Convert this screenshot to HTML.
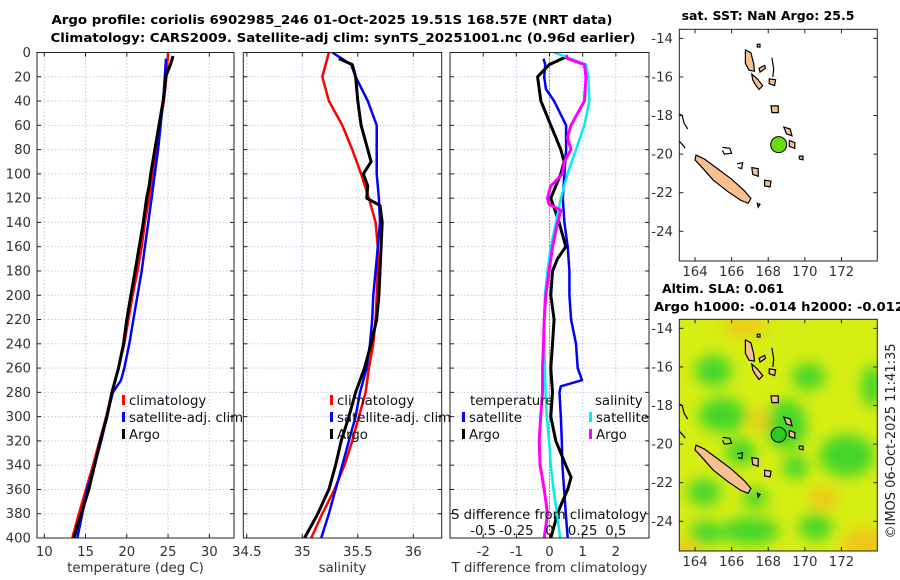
<!DOCTYPE html>
<html><head><meta charset="utf-8"><style>
body{margin:0;background:#fff;}
svg{display:block;font-family:"DejaVu Sans","Liberation Sans",sans-serif;}
</style></head><body>
<svg id="fig" width="900" height="580" viewBox="0 0 900 580" xmlns="http://www.w3.org/2000/svg">
<defs>
<clipPath id="c1"><rect x="37" y="52.5" width="197" height="485.5"/></clipPath>
<clipPath id="c2"><rect x="243.3" y="52.5" width="198.4" height="485.5"/></clipPath>
<clipPath id="c3"><rect x="450" y="52.5" width="199" height="485.5"/></clipPath>
<clipPath id="cm1"><rect x="679.3" y="29.3" width="198" height="231.7"/></clipPath>
<clipPath id="cm2"><rect x="679.3" y="319.3" width="198" height="231.7"/></clipPath>
<filter id="blur" x="-50%" y="-50%" width="200%" height="200%"><feGaussianBlur stdDeviation="7"/></filter>
</defs>
<g id="root"></g>
<text x="332" y="24" text-anchor="middle" font-size="12.5" font-weight="bold" textLength="561" lengthAdjust="spacingAndGlyphs">Argo profile: coriolis 6902985_246 01-Oct-2025 19.51S 168.57E (NRT data)</text>
<text x="343" y="42" text-anchor="middle" font-size="12.5" font-weight="bold" textLength="585" lengthAdjust="spacingAndGlyphs">Climatology: CARS2009. Satellite-adj clim: synTS_20251001.nc (0.96d earlier)</text>
<text x="768" y="20" text-anchor="middle" font-size="12.5" font-weight="bold">sat. SST: NaN Argo: 25.5</text>
<text x="723" y="293" text-anchor="middle" font-size="12.5" font-weight="bold">Altim. SLA: 0.061</text>
<text x="654" y="311" font-size="12.5" font-weight="bold" textLength="250" lengthAdjust="spacingAndGlyphs">Argo h1000: -0.014 h2000: -0.012</text>
<text transform="translate(895,441) rotate(-90)" text-anchor="middle" font-size="13" fill="#222">©IMOS 06-Oct-2025 11:41:35</text>
</svg>
<script>
// ---------- data ----------
const depthGrid = [0,20,40,60,80,100,120,140,160,180,200,220,240,260,280,300,320,340,360,380,400];
const tClim = [25.0,24.8,24.5,24.0,23.6,23.1,22.7,22.2,21.8,21.3,20.7,20.2,19.7,19.0,18.2,17.5,16.7,15.9,15.05,14.2,13.4];
const tSatDepth = [5,20,40,60,80,100,120,140,160,180,200,220,240,260,270,280,300,320,340,360,380,400];
const tSat = [24.75,24.6,24.4,24.1,23.8,23.4,23.0,22.6,22.2,21.8,21.3,20.8,20.3,19.7,19.3,18.3,17.6,16.9,16.1,15.2,14.6,14.0];
const tArgoDepth = [3,10,20,30,40,60,80,100,110,120,140,160,180,200,220,240,260,280,300,320,340,360,380,390,400];
const tArgo = [25.6,25.3,24.7,24.6,24.4,23.9,23.4,22.9,22.7,22.4,22.0,21.5,21.0,20.5,20.0,19.6,19.0,18.2,17.6,16.8,16.1,15.4,14.5,14.0,13.6];
const sClim = [35.24,35.18,35.24,35.36,35.45,35.53,35.6,35.66,35.68,35.68,35.67,35.66,35.64,35.6,35.57,35.51,35.45,35.38,35.29,35.18,35.08];
const sSatDepth = [0,10,20,40,60,80,100,120,140,160,180,200,220,240,260,280,300,320,340,360,380,400];
const sSat = [35.27,35.44,35.48,35.59,35.67,35.67,35.67,35.69,35.7,35.68,35.66,35.64,35.63,35.61,35.58,35.52,35.48,35.42,35.36,35.30,35.24,35.17];
const sArgoDepth = [5,10,20,40,60,80,90,100,110,120,126,140,160,180,200,220,240,260,280,300,320,340,360,380,390,400];
const sArgo = [35.33,35.45,35.48,35.5,35.53,35.59,35.62,35.55,35.59,35.58,35.70,35.72,35.71,35.70,35.69,35.67,35.62,35.56,35.48,35.42,35.35,35.30,35.24,35.14,35.08,35.02];
const dTSatDepth = [5,10,20,30,40,60,80,100,120,140,160,180,200,220,240,260,270,275,280,300,320,340,360,380,400];
const dTSat = [-0.18,-0.13,-0.16,-0.11,0.14,0.5,0.5,0.45,0.4,0.45,0.55,0.6,0.6,0.65,0.8,0.85,0.98,0.34,0.3,0.34,0.37,0.39,0.44,0.49,0.55];
const dTArgoDepth = [3,10,20,30,40,60,80,90,100,120,140,160,170,180,200,220,240,260,280,300,320,340,350,360,370,380,400];
const dTArgo = [0.55,-0.01,-0.36,-0.31,-0.26,0.04,0.34,0.44,0.34,0.04,0.29,0.49,0.24,0.09,0.04,0.14,0.09,0.04,0.09,0.04,0.19,0.49,0.65,0.55,0.39,0.24,0.04];
const dSSatDepth = [0,10,20,40,60,80,100,120,140,160,180,200,220,240,260,280,300,320,340,360,380,400];
const dSSat = [0.035,0.275,0.293,0.3,0.263,0.2,0.136,0.086,0.048,0.01,-0.015,-0.035,-0.04,-0.04,-0.035,-0.03,-0.02,-0.003,0.01,0.03,0.056,0.081];
const dSArgoDepth = [2,5,10,20,40,60,70,80,90,100,110,120,125,130,140,160,180,200,220,240,260,280,300,320,340,360,380,400];
const dSArgo = [0.124,0.136,0.263,0.275,0.263,0.162,0.136,0.162,0.111,0.098,0.01,-0.015,-0.003,0.086,0.061,0.023,-0.003,-0.028,-0.04,-0.045,-0.053,-0.053,-0.066,-0.078,-0.071,-0.04,-0.015,-0.04];
const depthTicks = [0,20,40,60,80,100,120,140,160,180,200,220,240,260,280,300,320,340,360,380,400];
const tTicks = [10,15,20,25,30];
const sTicks = [34.5,35,35.5,36];
const sTickLabels = ["34.5","35","35.5","36"];
const dTTicks = [-2,-1,0,1,2];
const dSTicks = [-0.5,-0.25,0,0.25,0.5];
const dSTickLabels = ["-0.5","-0.25","0","0.25","0.5"];
const latTicks = [-14,-16,-18,-20,-22,-24];
const lonTicks = [164,166,168,170,172];
const argoLon = 168.57, argoLat = -19.51;

const NS="http://www.w3.org/2000/svg";
const root=document.getElementById('root');
const FS=13.3;
function el(tag,attrs,parent,text){const e=document.createElementNS(NS,tag);for(const k in attrs)e.setAttribute(k,attrs[k]);if(text!==undefined)e.textContent=text;(parent||root).appendChild(e);return e;}

const Y0=52.5,Y1=538;
const yD=d=>Y0+d*(Y1-Y0)/400;
function lin(v0,v1,p0,p1){return v=>p0+(v-v0)*(p1-p0)/(v1-v0);}
const xT=lin(10,30,44.3,209.3);
const xS=lin(35,36,302.3,413.3);
const xDT=lin(-3,3,450,649);
const xDS=lin(-0.75,0.75,450,649);

function panel(name,x0,x1,xticks,xfun,xlabels,xlabel){
  const g=el('g',{},root);
  
  
  xticks.forEach(t=>{const x=xfun(t);
    const gl=el('line',{x1:x,x2:x,y1:Y0,y2:Y1,stroke:'#c4c8e8','stroke-width':1,'stroke-dasharray':'1.5,2'},g);
    
  });
  depthTicks.forEach(d=>{const y=yD(d);
    const gl=el('line',{x1:x0,x2:x1,y1:y,y2:y,stroke:'#c4c8e8','stroke-width':1,'stroke-dasharray':'1.5,2'},g);
    
    el('line',{x1:x0,x2:x0+4,y1:y,y2:y,stroke:'#222'},g);
    el('line',{x1:x1,x2:x1-4,y1:y,y2:y,stroke:'#222'},g);
  });
  xticks.forEach((t,i)=>{const x=xfun(t);
    el('line',{x1:x,x2:x,y1:Y1,y2:Y1-4,stroke:'#222'},g);
    el('line',{x1:x,x2:x,y1:Y0,y2:Y0+4,stroke:'#222'},g);
    const tl=el('text',{x:x,y:556,'text-anchor':'middle','font-size':FS,fill:'#333'},g,xlabels[i]);
    
  });
  const xl=el('text',{x:(x0+x1)/2,y:572,'text-anchor':'middle','font-size':FS,fill:'#333'},g,xlabel);
  
  return g;
}
function series(g,name,depths,vals,xfun,color,w,clip){
  const pts=depths.map((d,i)=>xfun(vals[i]).toFixed(1)+','+yD(d).toFixed(1)).join(' ');
  const p=el('polyline',{points:pts,fill:'none',stroke:color,'stroke-width':w,'stroke-linejoin':'round','clip-path':'url(#'+clip+')'},g);
  
  
}
function frame(g,x0,x1){const r=el('rect',{x:x0,y:Y0,width:x1-x0,height:Y1-Y0,fill:'none',stroke:'#222','stroke-width':1},g);
  }
function legendItem(g,x,y,color,label){
  el('rect',{x:x,y:y-10,width:3,height:10,fill:color},g);
  const t=el('text',{x:x+7,y:y,'font-size':FS,fill:'#111'},g,label);
  
}

const g1=panel('temperature-panel',37,234,tTicks,xT,tTicks.map(String),'temperature (deg C)');
series(g1,'temp-climatology-line',depthGrid,tClim,xT,'#ff0000',2.5,'c1');
series(g1,'temp-satellite-line',tSatDepth,tSat,xT,'#0000ff',2.5,'c1');
series(g1,'temp-argo-line',tArgoDepth,tArgo,xT,'#000',3,'c1');
frame(g1,37,234);
depthTicks.forEach(d=>{const t=el('text',{x:31,y:yD(d)+4.5,'text-anchor':'end','font-size':FS,fill:'#333'},root,String(d));
  });
legendItem(g1,122,405,'#ff0000','climatology');
legendItem(g1,122,422,'#0000ff','satellite-adj. clim');
legendItem(g1,122,439,'#000','Argo');

const g2=panel('salinity-panel',243.3,441.7,sTicks,xS,sTickLabels,'salinity');
series(g2,'sal-climatology-line',depthGrid,sClim,xS,'#ff0000',2.5,'c2');
series(g2,'sal-satellite-line',sSatDepth,sSat,xS,'#0000ff',2.5,'c2');
series(g2,'sal-argo-line',sArgoDepth,sArgo,xS,'#000',3,'c2');
frame(g2,243.3,441.7);
legendItem(g2,330,405,'#ff0000','climatology');
legendItem(g2,330,422,'#0000ff','satellite-adj. clim');
legendItem(g2,330,439,'#000','Argo');

const g3=panel('difference-panel',450,649,dTTicks,xDT,dTTicks.map(String),'T difference from climatology');
const zl=el('line',{x1:xDT(0),x2:xDT(0),y1:Y0,y2:Y1,stroke:'#335533','stroke-width':1,'stroke-dasharray':'1,2'},g3);

series(g3,'dT-satellite-line',dTSatDepth,dTSat,xDT,'#0000ff',2.5,'c3');
series(g3,'dT-argo-line',dTArgoDepth,dTArgo,xDT,'#000',3,'c3');
series(g3,'dS-satellite-line',dSSatDepth,dSSat,xDS,'#00eeee',2.5,'c3');
series(g3,'dS-argo-line',dSArgoDepth,dSArgo,xDS,'#ff00ff',3,'c3');
frame(g3,450,649);
const lt=el('text',{x:470,y:405,'font-size':FS,fill:'#111'},g3,'temperature');

legendItem(g3,462,422,'#0000ff','satellite');
legendItem(g3,462,439,'#000','Argo');
const ls=el('text',{x:595,y:405,'font-size':FS,fill:'#111'},g3,'salinity');

legendItem(g3,589,422,'#00eeee','satellite');
legendItem(g3,589,439,'#ff00ff','Argo');
const st=el('text',{x:549,y:519,'text-anchor':'middle','font-size':FS,fill:'#111'},g3,'S difference from climatology');

dSTicks.forEach((t,i)=>{const tl=el('text',{x:xDS(t),y:535,'text-anchor':'middle','font-size':FS,fill:'#111'},g3,dSTickLabels[i]);
  });

// ---------- maps ----------
const islands = [
 [[164.05,-20.05],[164.5,-20.25],[165.3,-20.8],[166.0,-21.3],[166.7,-21.9],[167.05,-22.3],[166.9,-22.55],[166.5,-22.4],[165.8,-21.95],[165.0,-21.35],[164.3,-20.6],[164.0,-20.3]],
 [[166.75,-14.6],[167.05,-14.75],[167.2,-15.3],[167.25,-15.7],[166.95,-15.65],[166.75,-15.3]],
 [[167.1,-15.85],[167.4,-16.1],[167.7,-16.45],[167.5,-16.65],[167.3,-16.4],[167.15,-16.15]],
 [[168.05,-16.1],[168.4,-16.15],[168.35,-16.45],[168.05,-16.35]],
 [[167.5,-15.55],[167.8,-15.4],[167.85,-15.55],[167.55,-15.75]],
 [[168.15,-17.5],[168.55,-17.5],[168.55,-17.85],[168.2,-17.85]],
 [[168.85,-18.6],[169.2,-18.7],[169.3,-19.05],[169.0,-18.95]],
 [[169.15,-19.3],[169.45,-19.4],[169.45,-19.7],[169.15,-19.6]],
 [[169.7,-20.1],[169.9,-20.1],[169.9,-20.3],[169.7,-20.25]],
 [[167.1,-20.7],[167.45,-20.75],[167.45,-21.15],[167.15,-21.05]],
 [[167.8,-21.35],[168.15,-21.4],[168.1,-21.7],[167.8,-21.65]],
 [[167.4,-22.55],[167.55,-22.6],[167.45,-22.75]],
 [[167.4,-14.3],[167.55,-14.3],[167.55,-14.45],[167.4,-14.45]]
];
const outlines = [
 [[165.5,-19.65],[165.9,-19.7],[166.0,-19.95],[165.6,-20.0],[165.5,-19.8]],
 [[166.3,-20.5],[166.6,-20.45],[166.55,-20.75],[166.35,-20.7]],
 [[163.1,-17.9],[163.3,-18.0],[163.4,-18.4],[163.6,-18.7]],
 [[163.1,-19.3],[163.4,-19.6],[163.45,-19.7]],
 [[168.2,-15.0],[168.3,-15.6],[168.25,-16.0]]
];
const greenBlobs=[[165,-16.2,1.0,0.8],[164.5,-22.5,0.9,0.7],[165.5,-18.5,1.3,0.9],[169,-19,1.1,1.3],[172.3,-20.6,1.5,1.1],[173.7,-17,0.6,1.1],[167,-24.5,1.6,0.7],[164.6,-24.6,0.9,0.6],[170.6,-24.3,0.9,0.7],[169.5,-21.2,0.7,0.6],[166.5,-20.4,0.8,0.7],[170.2,-16.5,0.9,0.7],[167.3,-22.8,0.7,0.5]];
const orangeBlobs=[[173.3,-25.3,1.3,1.0],[166.7,-13.9,1.2,0.5],[163.5,-25.5,0.8,0.5],[171,-22.8,0.8,0.6],[167.5,-18.8,0.6,0.5]];

function map(name,top,clip,sla){
  const g=el('g',{},root);
  
  
  const L=679.3,R=877.3,H=231.7;
  const mx=lin(163.14,173.96,L,R);
  const my=lin(-13.53,-25.54,top,top+H);
  const cg=el('g',{'clip-path':'url(#'+clip+')'},g);
  if(sla){
    el('rect',{x:L,y:top,width:R-L,height:H,fill:'#d6ee14'},cg);
    const bg=el('g',{filter:'url(#blur)'},cg);
    greenBlobs.forEach(b=>el('ellipse',{cx:mx(b[0]),cy:my(b[1]),rx:b[2]*18.3,ry:b[3]*19.3,fill:'#44d62a'},bg));
    orangeBlobs.forEach(b=>el('ellipse',{cx:mx(b[0]),cy:my(b[1]),rx:b[2]*18.3,ry:b[3]*19.3,fill:'#f0c812'},bg));
  } else {
    el('rect',{x:L,y:top,width:R-L,height:H,fill:'#fff'},cg);
  }
  islands.forEach(p=>{const s=el('polygon',{points:p.map(q=>mx(q[0]).toFixed(1)+','+my(q[1]).toFixed(1)).join(' '),fill:'#f8c090',stroke:'#000','stroke-width':1.2},cg);
    });
  outlines.forEach(p=>el('polyline',{points:p.map(q=>mx(q[0]).toFixed(1)+','+my(q[1]).toFixed(1)).join(' '),fill:'none',stroke:'#000','stroke-width':1.2},cg));
  const dot=el('circle',{cx:mx(argoLon),cy:my(argoLat),r:sla?7.5:8,fill:sla?'#30c820':'#66dd11',stroke:'#000','stroke-width':1},cg);
  
  el('rect',{x:L,y:top,width:R-L,height:H,fill:'none',stroke:'#222'},g);
  latTicks.forEach(t=>{const y=my(t);
    el('line',{x1:L,x2:L+4,y1:y,y2:y,stroke:'#222'},g);el('line',{x1:R,x2:R-4,y1:y,y2:y,stroke:'#222'},g);
    const tl=el('text',{x:673,y:y+4.5,'text-anchor':'end','font-size':FS,fill:'#333'},g,String(t));
    });
  lonTicks.forEach(t=>{const x=mx(t);
    el('line',{x1:x,x2:x,y1:top+H,y2:top+H-4,stroke:'#222'},g);el('line',{x1:x,x2:x,y1:top,y2:top+4,stroke:'#222'},g);
    const tl=el('text',{x:x,y:top+H+15,'text-anchor':'middle','font-size':FS,fill:'#333'},g,String(t));
    });
}
map('sst-map',29.3,'cm1',false);
map('sla-map',319.3,'cm2',true);
</script>
</body></html>
